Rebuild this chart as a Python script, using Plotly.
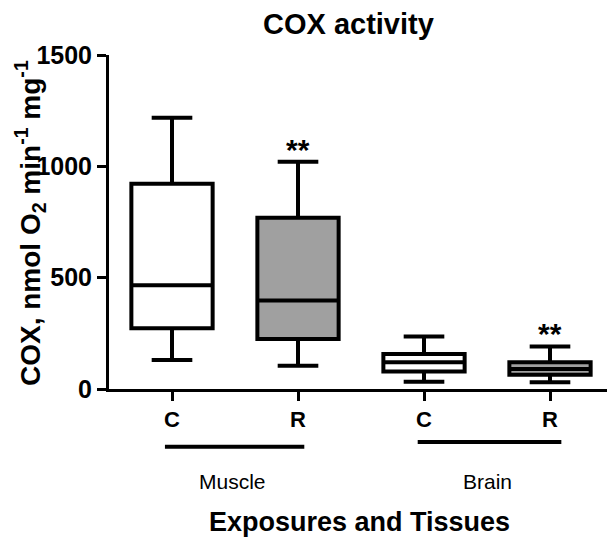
import plotly.graph_objects as go

# Data
positions = [0, 1, 2, 3]
tick_labels = ["C", "R", "C", "R"]
groups = ["Muscle", "Brain"]
lower_whisker = [130, 104, 33, 30]
q1 = [273, 224, 79, 64]
median = [466, 397, 120, 90]
q3 = [922, 769, 157, 120]
upper_whisker = [1218, 1021, 236, 191]
fills = ["white", "#a0a0a0", "white", "#a0a0a0"]
signif = ["", "**", "", "**"]
y_ticks = [0, 500, 1000, 1500]

FONT = "Liberation Sans, Arial, sans-serif"

fig = go.Figure()
for i in range(len(positions)):
    fig.add_trace(go.Box(
        x=[positions[i]],
        q1=[q1[i]], median=[median[i]], q3=[q3[i]],
        lowerfence=[lower_whisker[i]], upperfence=[upper_whisker[i]],
        fillcolor=fills[i],
        line=dict(color="black", width=4),
        width=0.645,
        whiskerwidth=0.5,
        boxpoints=False,
        showlegend=False,
        hoverinfo="skip",
    ))
    if signif[i]:
        fig.add_annotation(x=positions[i], y=upper_whisker[i], text="<b>" + signif[i] + "</b>",
                           showarrow=False, yanchor="bottom", yshift=-6,
                           font=dict(family=FONT, size=30, color="black"))

# group bars and labels
group_spans = [(-0.056, 1.05, -0.173), (1.95, 3.09, -0.159)]
group_centers = [0.48, 2.5]
for (x0, x1, yb), g, c in zip(group_spans, groups, group_centers):
    fig.add_shape(type="line", xref="x", yref="paper", x0=x0, x1=x1, y0=yb, y1=yb,
                  line=dict(color="black", width=4))
    fig.add_annotation(xref="x", yref="paper", x=c, y=-0.278, text=g, showarrow=False,
                       yanchor="middle", font=dict(family=FONT, size=21, color="black"))

# titles
fig.add_annotation(xref="paper", yref="paper", x=(348 - 109) / 504, y=(389 - 24) / 334,
                   text="<b>COX activity</b>", showarrow=False, xanchor="center", yanchor="middle",
                   font=dict(family=FONT, size=29, color="black"))
fig.add_annotation(xref="paper", yref="paper", x=(359 - 109) / 504, y=(389 - 522) / 334,
                   text="<b>Exposures and Tissues</b>", showarrow=False, xanchor="center", yanchor="middle",
                   font=dict(family=FONT, size=27, color="black"))
fig.add_annotation(xref="paper", yref="paper", x=(30 - 109) / 504, y=(389 - 223) / 334,
                   text="<b>COX, nmol O<sub>2</sub> min<sup>-1</sup> mg<sup>-1</sup></b>", showarrow=False,
                   textangle=-90, xanchor="center", yanchor="middle",
                   font=dict(family=FONT, size=28, color="black"))

# page body has an 8px default margin, so the figure is sized/offset to compensate
fig.update_layout(
    width=607, height=541,
    margin=dict(l=101, r=2, t=47, b=160, autoexpand=False),
    plot_bgcolor="white", paper_bgcolor="white",
    xaxis=dict(
        range=[-0.5, 3.5], tickmode="array", tickvals=positions,
        ticktext=["<b>" + t + "</b>" for t in tick_labels],
        showline=True, linecolor="black", linewidth=3,
        ticks="outside", ticklen=9, tickwidth=3, tickcolor="black",
        showgrid=False, zeroline=False, automargin=False,
        tickfont=dict(family=FONT, size=22, color="black"),
    ),
    yaxis=dict(
        range=[0, 1500], tickmode="array", tickvals=y_ticks,
        ticktext=["<b>%d</b>" % v for v in y_ticks],
        showline=True, linecolor="black", linewidth=3,
        ticks="outside", ticklen=9, tickwidth=3, tickcolor="black",
        showgrid=False, zeroline=False, automargin=False,
        tickfont=dict(family=FONT, size=25, color="black"),
    ),
)

fig.write_html("out.html")
